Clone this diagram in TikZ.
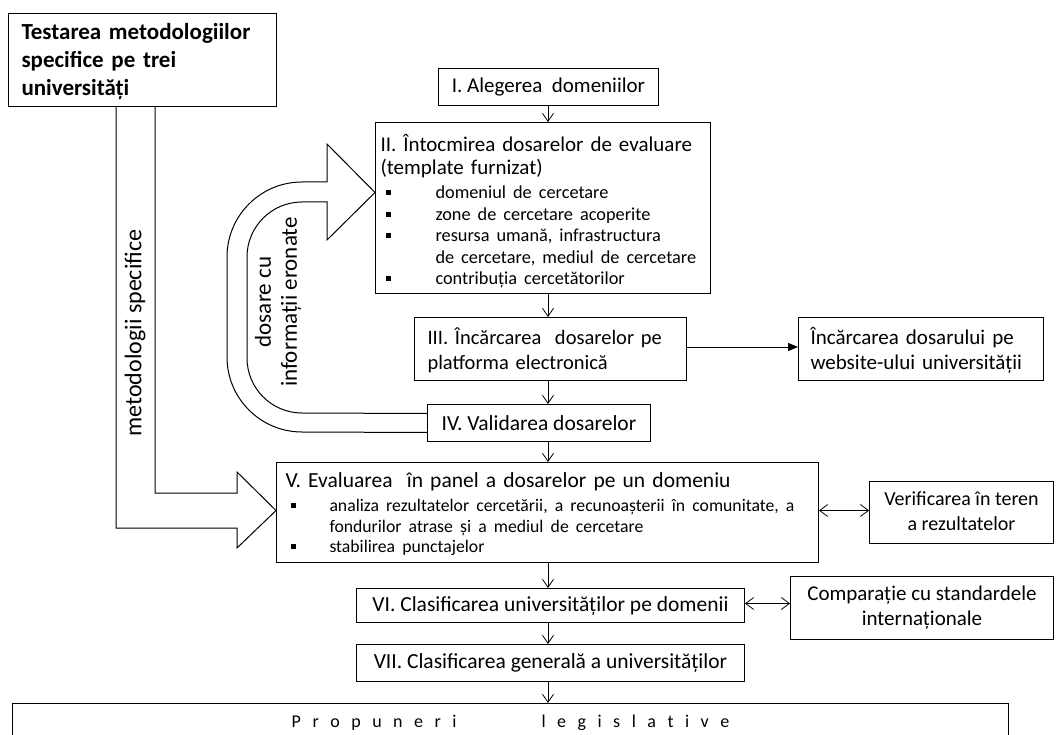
\documentclass[tikz,border=0pt]{standalone}
\usepackage{fontspec}
\setmainfont{Carlito}
\usetikzlibrary{arrows.meta,calc}
\tikzset{
  box/.style={draw, line width=1pt, rectangle, inner sep=0pt, anchor=north west},
  varr/.style={-{Straight Barb[length=8pt,width=11pt]}, line width=0.8pt},
  darr/.style={{Straight Barb[length=8pt,width=12pt]}-{Straight Barb[length=8pt,width=12pt]}, line width=0.8pt},
  farr/.style={-{Triangle[length=10pt,width=8pt]}, line width=1pt},
  blk/.style={line width=1pt, line join=miter},
}
\newcommand{\bsq}{\raisebox{3.5pt}{\rule{5pt}{5pt}}}
\newcommand{\bitem}[2]{\makebox[#1][l]{\hspace*{5pt}\bsq}#2}
\newcommand{\hs}{\hspace{11.5pt}}
\newcommand{\fs}[2]{\fontsize{#1}{#2}\selectfont}
\newcommand{\dropbox}[2]{\raisebox{-#1}[\height][\depth]{#2}}
\begin{document}
\begin{tikzpicture}[x=1pt,y=-1pt]
\useasboundingbox (0,0) rectangle (1057,735);
\clip (0,0) rectangle (1057,735);

% boxes
\node[box, minimum width=268pt, minimum height=93pt, text width=242pt, inner xsep=13pt,
  font=\fs{23}{27.7}\bfseries] (T) at (8,13)
  {\dropbox{2pt}{\begin{tabular}{@{}l@{}}Testarea metodologiilor\\specifice pe trei\\universități\end{tabular}}};

\node[box, minimum width=220pt, minimum height=37pt, font=\fs{21}{25}] (I) at (438,68) {I. Alegerea\ \ domeniilor};

\node[box, minimum width=335pt, minimum height=171pt, text width=325pt, inner xsep=5pt, font=\fs{21}{21.5}] (II) at (375,122)
  {\dropbox{4.5pt}{\begin{tabular}{@{}l@{}}
   II. Întocmirea dosarelor de evaluare\\[1.5pt]
   (template furnizat)\\[2.5pt]
   \fs{18.3}{21}\bitem{55pt}{domeniul de cercetare}\\
   \fs{18.3}{21}\bitem{55pt}{zone de cercetare acoperite}\\
   \fs{18.3}{21}\bitem{55pt}{resursa umană, infrastructura}\\
   \fs{18.3}{21}\hspace*{55pt}de cercetare, mediul de cercetare\\
   \fs{18.3}{21}\bitem{55pt}{contribuția cercetătorilor}
   \end{tabular}}};

\node[box, minimum width=272pt, minimum height=63pt, text width=246pt, inner xsep=13pt, font=\fs{20.5}{25}] (III) at (414,317)
  {\dropbox{2.5pt}{\begin{tabular}{@{}l@{}}III. Încărcarea\ \ dosarelor pe\\platforma electronică\end{tabular}}};

\node[box, minimum width=245pt, minimum height=63pt, text width=221pt, inner xsep=12pt, font=\fs{21}{25}] (W) at (798,317)
  {\dropbox{2.5pt}{\begin{tabular}{@{}l@{}}Încărcarea dosarului pe\\website-ului universității\end{tabular}}};

\node[box, minimum width=223pt, minimum height=37pt, font=\fs{21.5}{25}] (IV) at (427,404) {IV. Validarea dosarelor};

\node[box, minimum width=542pt, minimum height=100pt, text width=524pt, inner xsep=9pt, font=\fs{21.5}{20.3}] (V) at (276,462)
  {\dropbox{3pt}{\begin{tabular}{@{}l@{}}
   V. Evaluarea\ \ în panel a dosarelor pe un domeniu\\[4pt]
   \fs{17.7}{20}\bitem{44pt}{analiza rezultatelor cercetării, a recunoașterii în comunitate, a}\\
   \fs{17.7}{20}\hspace*{44pt}fondurilor atrase și a mediul de cercetare\\
   \fs{17.7}{20}\bitem{44pt}{stabilirea punctajelor}
   \end{tabular}}};

\node[box, minimum width=184pt, minimum height=62pt, font=\fs{20}{25}] (VT) at (869,481)
  {\begin{tabular}{@{}c@{}}Verificarea în teren\\a rezultatelor\end{tabular}};

\node[box, minimum width=388pt, minimum height=34pt, font=\fs{21.5}{25}] (VI) at (356,588) {VI. Clasificarea\ universităților pe domenii};

\node[box, minimum width=263pt, minimum height=63pt, font=\fs{21}{25}] (C) at (790,576)
  {\begin{tabular}{@{}c@{}}Comparație cu standardele\\internaționale\end{tabular}};

\node[box, minimum width=388pt, minimum height=37pt, font=\fs{21.5}{25}] (VII) at (356,644) {VII. Clasificarea\ generală a universităților};

\node[box, minimum width=996pt, minimum height=38pt, font=\fs{18}{20}] (P) at (12,703)
  {P\hs r\hs o\hs p\hs u\hs n\hs e\hs r\hs i\hspace{85pt}l\hs e\hs g\hs i\hs s\hs l\hs a\hs t\hs i\hs v\hs e};

% rotated labels
\node[rotate=90, font=\fs{23}{26}, align=center] (L1) at (278,302) {dosare cu\\informații eronate};
\node[rotate=90, font=\fs{24}{26}] (L2) at (135,333) {metodologii specifice};

% vertical connectors
\coordinate (cx) at (548,0);
\draw[varr] (I.south -| cx) -- (II.north -| cx);
\draw[varr] (II.south -| cx) -- (III.north -| cx);
\draw[varr] (III.south -| cx) -- (IV.north -| cx);
\draw[varr] (IV.south -| cx) -- (V.north -| cx);
\draw[varr] (V.south -| cx) -- (VI.north -| cx);
\draw[varr] (VI.south -| cx) -- (VII.north -| cx);
\draw[varr] (VII.south -| cx) -- (P.north -| cx);

% horizontal connectors
\draw[farr] ($(III.east)+(0,-2)$) -- ($(W.west)+(0,-2)$);
\draw[darr] ($(V.east)+(0,-2)$) -- ($(VT.west)+(0,-2)$);
\draw[darr] ($(VI.east)+(0,-2)$) -- ($(C.west)+(0,-4.5)$);

% big arrow from top-left box
\coordinate (m1) at (T.south -| 116,0);
\coordinate (m2) at (T.south -| 155,0);
\draw[blk] (m1) -- (116,528) -- (237,528) -- (237,548) -- ($(V.west)+(0,-2)$) -- (237,472) -- (237,493) -- (155,493) -- (m2);

% U-shaped block arrow
\draw[blk] ($(IV.west)+(0,-9.5)$) -- (302,413)
  arc[start angle=90, end angle=180, radius=55] -- (247,257)
  arc[start angle=180, end angle=270, radius=55] -- (327,202) -- (327,240)
  -- ($(II.west)+(0,-15.5)$) -- (327,144) -- (327,182) -- (302,182)
  arc[start angle=270, end angle=180, radius=75] -- (227,357)
  arc[start angle=180, end angle=90, radius=75] -- ($(IV.west)+(0,9.5)$);
\end{tikzpicture}
\end{document}
